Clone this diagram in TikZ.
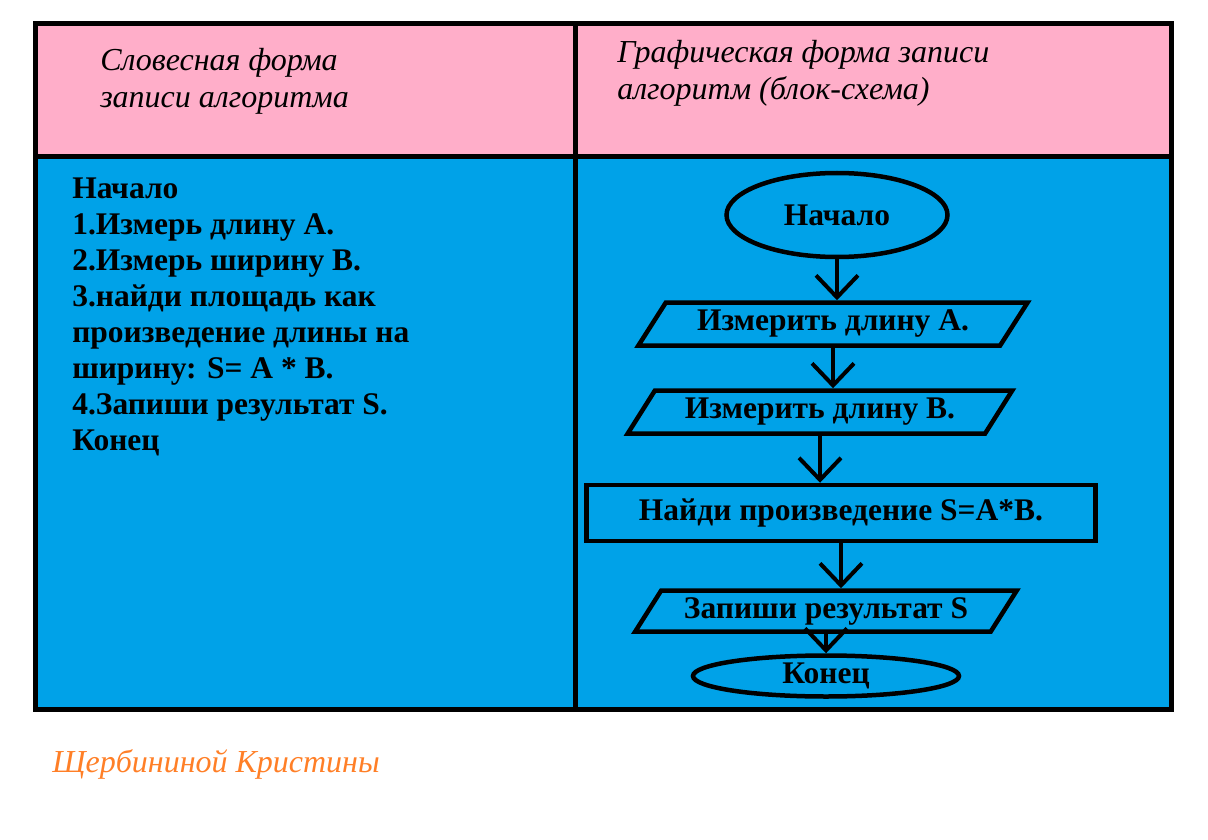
\documentclass[tikz,border=0pt]{standalone}
\usepackage{fontspec}
\setmainfont{Liberation Serif}
\usetikzlibrary{shapes.geometric,arrows.meta}
\definecolor{headpink}{HTML}{FFAEC9}
\definecolor{cellblue}{HTML}{00A2E8}
\definecolor{signorange}{HTML}{FF7F27}
\begin{document}
\begin{tikzpicture}[x=1pt, y=-1pt, line width=4.5pt,
  every node/.style={font=\fontsize{31.5}{36}\selectfont\bfseries, inner sep=0pt},
  term/.style={draw, ellipse},
  io/.style={draw, trapezium, trapezium left angle=51, trapezium right angle=129,
    trapezium stretches=true},
  proc/.style={draw, rectangle},
  flow/.style={-{Straight Barb[length=22pt,width=42pt,line width=4pt]}, line width=4pt},
  head/.style={anchor=north west, align=left, font=\fontsize{32}{37}\selectfont\itshape}]
  \path[use as bounding box] (0,0) rectangle (1208,840);
  % Table: pink header row, blue body row
  \fill[headpink] (35,24) rectangle (1171,157);
  \fill[cellblue] (35,157) rectangle (1171,709);
  \draw[line width=5pt] (35,24) rectangle (1171,709);
  \draw[line width=5pt] (35,157) -- (1171,157);
  \draw[line width=5pt] (575,24) -- (575,709);
  % Column headings
  \node[head] (wordhead) at (98,46) {Словесная форма\\записи алгоритма};
  \node[head] (charthead) at (615,38) {Графическая форма записи\\алгоритм (блок-схема)};
  % Verbal form
  \node[anchor=north west, align=left] (wordtext) at (70,176)
    {Начало\\1.Измерь длину А.\\2.Измерь ширину В.\\3.найди площадь как\\произведение длины на\\ширину: S= A * B.\\4.Запиши результат S.\\Конец};
  % Flowchart
  \node[term, minimum width=221, minimum height=84] (start) at (837,215) {Начало};
  \node[io, minimum width=391, minimum height=43] (inA) at (833,324) {Измерить длину А.};
  \node[io, minimum width=385, minimum height=43] (inB) at (820,412) {Измерить длину В.};
  \node[proc, minimum width=509, minimum height=56] (calc) at (841,513) {Найди произведение S=A*B.};
  \node[io, minimum width=382, minimum height=41] (out) at (826,611) {Запиши результат S};
  \node[term, minimum width=266, minimum height=41] (stop) at (826,676) {Конец};
  \draw[flow] (start.south) -- (start.south |- inA.north);
  \draw[flow] (inA.south) -- (inA.south |- inB.north);
  \draw[flow] (inB.south) -- (inB.south |- calc.north);
  \draw[flow] (calc.south) -- (calc.south |- out.north);
  \draw[flow] (out.south) -- (out.south |- stop.north);
  % Signature
  \node[anchor=west, text=signorange, font=\fontsize{32}{36}\selectfont\itshape] (author)
    at (50,764) {Щербининой Кристины};
\end{tikzpicture}
\end{document}
